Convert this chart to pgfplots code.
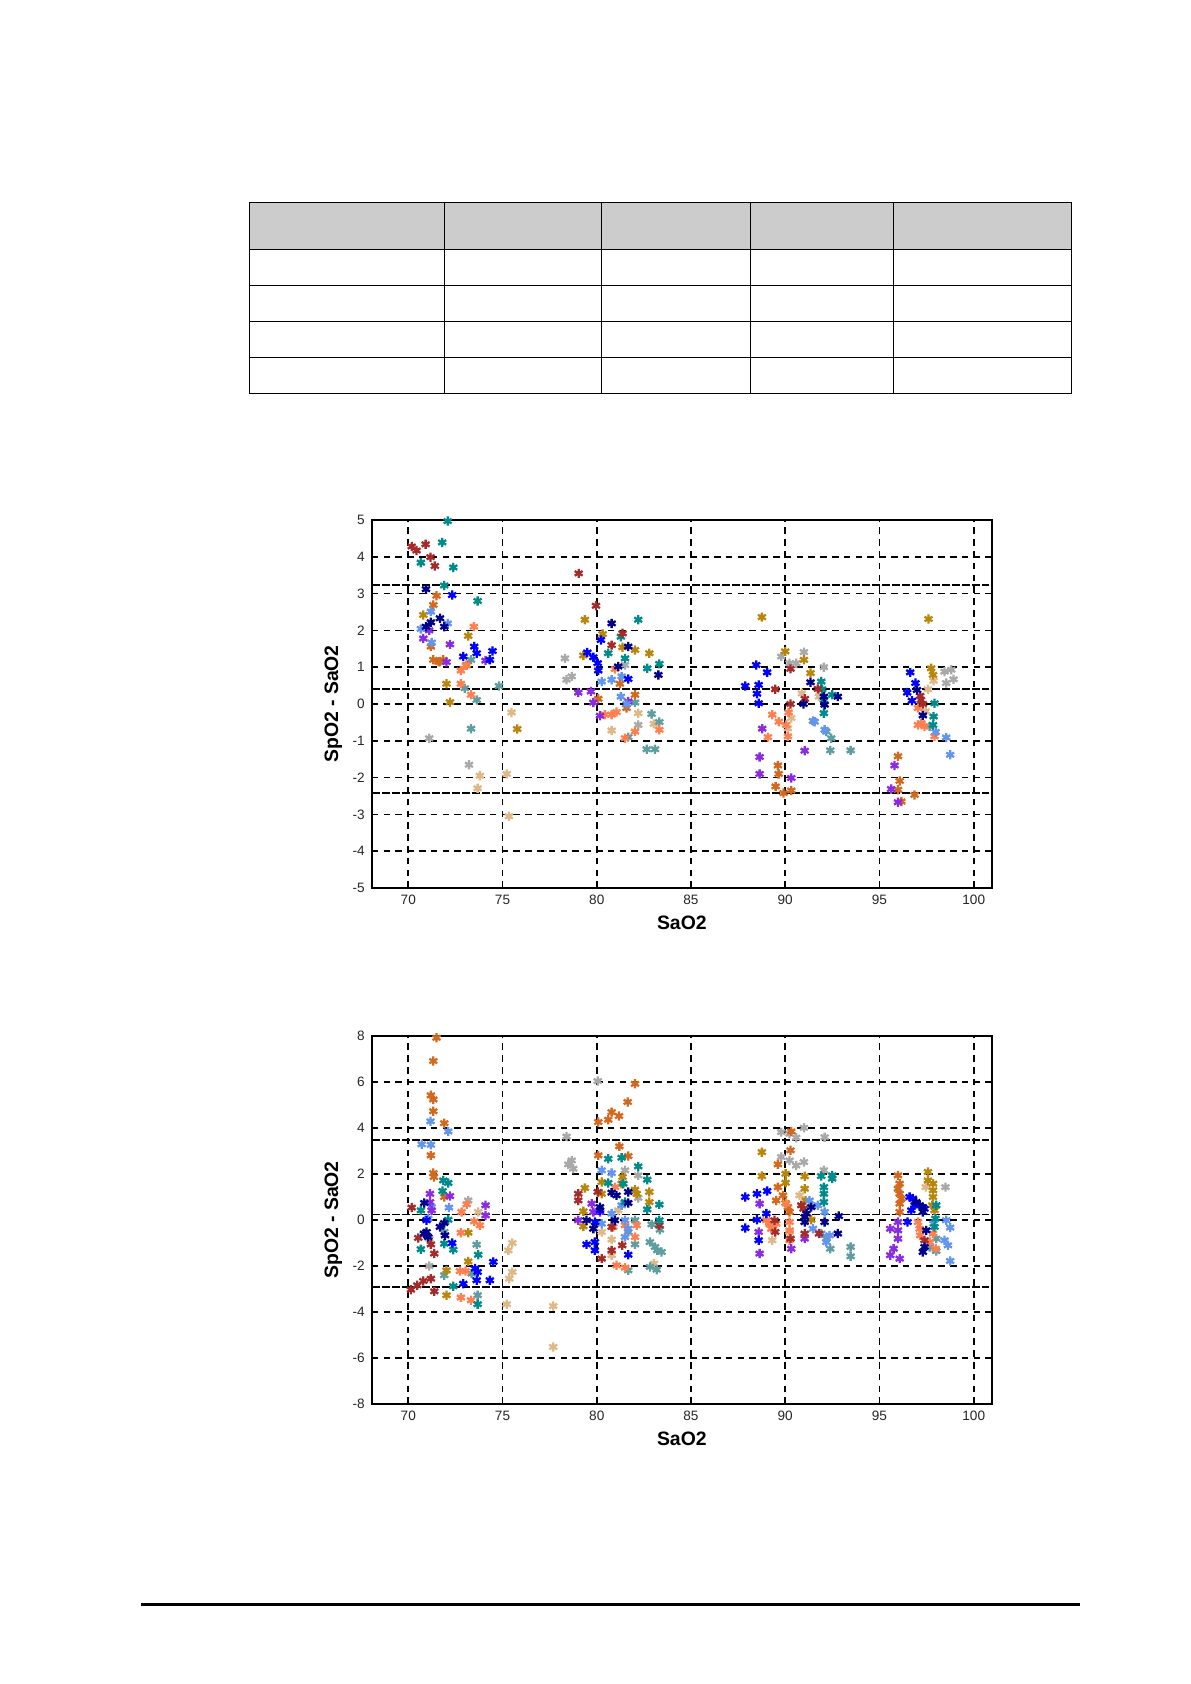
\documentclass[border=0pt]{standalone}
\usepackage{fontspec}
\setmainfont{Liberation Sans}
\usepackage{pgfplots}
\pgfplotsset{compat=1.18}

\definecolor{cblue}{HTML}{0000FF}
\definecolor{cviolet}{HTML}{8A2BE2}
\definecolor{cbrown}{HTML}{A52A2A}
\definecolor{cburly}{HTML}{DEB887}
\definecolor{ccadet}{HTML}{5F9EA0}
\definecolor{cchoc}{HTML}{D2691E}
\definecolor{ccoral}{HTML}{FF7F50}
\definecolor{ccorn}{HTML}{6495ED}
\definecolor{cdblue}{HTML}{00008B}
\definecolor{cdcyan}{HTML}{008B8B}
\definecolor{cgold}{HTML}{B8860B}
\definecolor{cgray}{HTML}{A9A9A9}

\pgfplotsset{
  sao/.style={
    scale only axis, width=310.15pt, height=184pt,
    anchor=south west,
    xmin=68.06, xmax=100.97,
    xtick={70,75,...,100},
    grid=major,
    grid style={black, line width=0.8pt, dash pattern=on 3.3pt off 2.6pt},
    major tick length=0pt,
    axis line style={line width=0.9pt},
    /pgf/number format/assume math mode=true,
    tick label style={font=\fontsize{6.8}{8}\selectfont, text=black!85},
    xlabel={\textbf{SaO2}}, ylabel={\textbf{SpO2 - SaO2}},
    label style={font=\fontsize{9.7}{11}\selectfont},
    xlabel style={at={(axis description cs:0.5,-0.094)}, anchor=center},
    ylabel style={at={(axis description cs:-0.062,0.5)}, anchor=center},
    clip=true,
  },
  limit/.style={black, line width=0.8pt, dash pattern=on 4pt off 1pt},
  pt/.style={only marks, mark=asterisk, mark size=2.3pt, color=#1, mark options={solid, draw=#1, line width=1.15pt}},
}

\begin{document}
\begin{tikzpicture}[x=0.5pt, y=-0.5pt]
\path[use as bounding box] (0,0) rectangle (1190,1684);

% table, empty
\fill[black!20] (249.3,202.3) rectangle (1071.3,249.3);
\draw[black, line width=0.6pt] (249.3,202.3) rectangle (1071.3,393.3);
\foreach \yy in {249.3,285.3,321.3,357.3} \draw[black, line width=0.6pt] (249.3,\yy) -- (1071.3,\yy);
\foreach \xx in {444.3,601.3,750.3,893.3} \draw[black, line width=0.6pt] (\xx,202.3) -- (\xx,393.3);

% footer rule
\draw[black, line width=1.5pt] (141,1604.3) -- (1080,1604.3);

\begin{axis}[sao, at={(185.85pt,-444pt)}, ymin=-5, ymax=5, ytick={-5,-4,...,5}]
\addplot[limit] coordinates {(68.06,3.23) (100.8,3.23)};
\addplot[limit] coordinates {(68.06,0.40) (100.8,0.40)};
\addplot[limit] coordinates {(68.06,-2.42) (100.8,-2.42)};
\addplot[pt=cburly] coordinates {(75.48,-0.23)(73.8,-1.95)(73.68,-2.29)(75.22,-1.9)(75.34,-3.05)(80.79,-0.72)(82.2,-0.25)(83.03,-0.54)(90.88,0.29)(91.79,0.2)(90.32,-0.38)(90.14,-0.66)(97.57,0.4)(97.87,0.63)(97.45,-0.2)};
\addplot[pt=ccadet] coordinates {(74.81,0.49)(73.63,0.11)(73.0,0.43)(73.33,-0.67)(73.33,1.2)(82.03,0.04)(82.91,-0.27)(83.32,-0.49)(82.65,-1.23)(83.09,-1.23)(81.67,-0.90)(92.18,-0.75)(92.44,-0.93)(92.39,-1.26)(93.47,-1.26)(97.66,-0.61)};
\addplot[pt=cgray] coordinates {(71.11,-0.93)(73.22,-1.65)(78.31,1.24)(78.4,0.66)(78.67,0.75)(81.5,1.06)(82.2,-0.57)(89.79,1.29)(90.23,1.11)(90.58,1.11)(90.99,1.41)(92.05,1.0)(98.45,0.88)(98.54,0.57)(98.93,0.67)(98.81,0.93)};
\addplot[pt=cgold] coordinates {(70.8,2.42)(73.18,1.85)(72.03,0.55)(72.21,0.05)(75.78,-0.68)(79.37,2.29)(79.29,1.32)(80.31,1.90)(81.37,1.54)(82.03,1.47)(82.79,1.38)(71.68,1.15)(88.76,2.36)(90,1.43)(90.99,1.2)(91.34,0.84)(97.6,2.31)(97.74,0.97)(97.84,0.79)};
\addplot[pt=cchoc] coordinates {(71.5,2.94)(71.33,2.69)(71.2,1.56)(71.33,1.2)(71.86,1.2)(71.6,1.15)(73.1,1.06)(80.08,0.14)(81.23,0.55)(82.03,0.25)(81.58,-0.11)(89.61,-1.67)(89.65,-1.9)(89.49,-2.24)(89.91,-2.42)(90.32,-2.35)(95.98,-1.42)(96.07,-2.09)(95.98,-2.33)(96.16,-2.65)(96.86,-2.47)};
\addplot[pt=ccoral] coordinates {(73.48,2.10)(72.79,0.91)(73.06,1.05)(72.79,0.55)(73.33,0.25)(80.97,0.95)(80.43,-0.29)(80.79,-0.29)(81.05,-0.22)(81.5,-0.93)(82.03,-0.75)(83.32,-0.70)(89.31,-0.29)(89.66,-0.48)(90.05,-0.57)(90.18,-0.23)(89.08,-0.90)(90.14,-0.88)(97.04,-0.11)(97.22,-0.52)(97.39,-0.61)(97.04,-0.57)(97.92,-0.88)};
\addplot[pt=cviolet] coordinates {(70.8,1.78)(71.11,2.0)(72.21,1.62)(72.03,1.14)(74.1,1.18)(79.02,0.31)(79.69,0.34)(79.82,0.04)(80.17,-0.32)(81.67,0.07)(88.78,-0.67)(88.64,-1.44)(88.64,-1.9)(90.32,-2.01)(91.03,-1.27)(95.8,-1.67)(95.62,-2.31)(95.98,-2.67)};
\addplot[pt=ccorn] coordinates {(71.2,2.51)(70.67,2.04)(72.09,2.19)(71.24,1.67)(80.26,0.61)(80.79,0.66)(81.32,0.75)(81.28,0.2)(81.58,0.0)(91.56,-0.48)(92.09,-0.7)(91.47,-0.46)(97.98,-0.76)(98.54,-0.91)(98.75,-1.38)};
\addplot[pt=cblue] coordinates {(72.33,2.96)(72.92,1.29)(73.5,1.56)(73.63,1.38)(74.47,1.44)(74.33,1.2)(79.5,1.4)(79.82,1.27)(80.05,1.11)(80.08,0.91)(80.22,1.74)(81.67,0.68)(88.46,1.06)(89.04,0.86)(87.88,0.49)(88.59,0.52)(88.5,0.28)(88.59,0.02)(96.63,0.86)(96.91,0.57)(96.47,0.31)(96.72,0.09)};
\addplot[pt=cdcyan] coordinates {(72.09,4.97)(71.8,4.39)(70.67,3.84)(72.39,3.71)(71.91,3.22)(73.68,2.80)(80.61,1.38)(81.28,1.83)(81.5,1.24)(82.2,2.29)(82.68,0.97)(83.32,1.09)(91.91,0.61)(91.96,0.40)(92.05,0.11)(92.05,-0.25)(92.49,0.25)(97.92,0.02)(97.87,-0.34)(97.84,-0.57)};
\addplot[pt=cbrown] coordinates {(70.18,4.28)(70.44,4.17)(70.92,4.34)(71.18,3.99)(71.41,3.75)(79.04,3.55)(79.96,2.67)(80.79,1.60)(81.37,1.92)(89.47,0.40)(90.28,0.955)(90.28,0.0)(91.04,0.14)(91.73,0.41)(97.16,0.22)(97.30,0.0)(97.2,0.11)};
\addplot[pt=cdblue] coordinates {(70.94,3.12)(71.2,2.22)(70.94,2.1)(71.68,2.33)(71.91,2.1)(80.79,2.19)(81.67,1.56)(83.27,0.79)(81.14,1.02)(91.34,0.59)(90.97,0.0)(92.05,0.2)(92.79,0.2)(92.09,-0.02)(96.99,0.38)(97.3,-0.31)};
\end{axis}

\begin{axis}[sao, at={(185.85pt,-702pt)}, ymin=-8, ymax=8, ytick={-8,-6,...,8}]
\addplot[limit] coordinates {(68.06,3.47) (100.8,3.47)};
\addplot[limit] coordinates {(68.06,0.24) (100.8,0.24)};
\addplot[limit] coordinates {(68.06,-2.90) (100.8,-2.90)};
\addplot[pt=cburly] coordinates {(73.71,0.35)(75.52,-1.0)(75.31,-1.32)(75.52,-2.26)(75.36,-2.55)(75.22,-3.66)(77.69,-3.74)(77.69,-5.52)(83.03,-1.9)(80.79,-0.85)(80.26,-0.52)(80.79,-1.53)(81.14,0.42)(89.31,-0.88)(90.23,-0.52)(90.76,1.07)(97.45,1.43)};
\addplot[pt=cgray] coordinates {(78.4,3.63)(78.67,2.59)(78.49,2.42)(78.75,2.23)(80.05,6.04)(81.5,2.16)(82.2,1.94)(82.2,0.96)(73.18,0.85)(71.11,-2.0)(71.11,-0.81)(89.79,3.82)(90.23,3.75)(90.58,3.58)(90.99,4.01)(92.09,3.6)(89.79,2.74)(90.23,2.59)(90.58,2.37)(90.99,2.52)(92.05,2.16)(98.5,1.43)};
\addplot[pt=ccadet] coordinates {(71.91,-0.52)(71.91,-2.4)(73.63,-1.07)(73.68,-3.27)(73.36,-2.33)(82.03,-0.01)(81.67,-0.52)(82.03,-1.06)(82.91,-0.19)(83.35,-0.42)(82.82,-0.96)(83.09,-1.17)(83.44,-1.39)(83.21,-1.32)(82.82,-2.04)(83.18,-2.16)(81.67,-2.19)(92.18,-0.81)(92.39,-1.25)(93.47,-1.17)(93.47,-1.58)(98.01,-0.81)(98.01,-1.35)(97.66,-1.17)};
\addplot[pt=cchoc] coordinates {(71.5,7.92)(71.33,6.91)(71.2,5.42)(71.33,5.24)(71.33,4.73)(71.91,4.21)(71.2,2.81)(71.33,2.04)(71.36,1.87)(71.91,1.0)(80.08,4.26)(80.61,4.36)(80.79,4.69)(81.18,4.52)(81.64,5.13)(82.03,5.92)(81.2,3.2)(80.08,2.81)(81.67,2.78)(90.32,3.85)(90.28,3.03)(89.61,2.42)(89.61,1.43)(89.52,0.85)(89.88,1.07)(90.14,0.56)(90.23,0.35)(95.98,1.94)(96.07,1.58)(96.07,1.14)(96.07,0.71)(96.07,0.35)(95.98,1.36)(96.16,0.92)};
\addplot[pt=cgold] coordinates {(73.18,-0.55)(73.18,-1.8)(72.03,-2.19)(72.03,-3.27)(79.37,1.39)(79.29,0.38)(79.29,-0.28)(80.26,1.65)(80.26,1.14)(81.37,1.87)(81.32,1.58)(82.03,1.32)(82.12,1.14)(82.79,1.22)(82.79,0.78)(88.76,2.95)(88.76,1.91)(90.02,2.01)(90.02,1.62)(90.02,0.74)(91.03,1.9)(91.03,1.36)(91.08,0.85)(91.38,0.01)(97.57,2.09)(97.57,1.72)(97.84,1.29)(97.84,1.0)(97.8,0.64)(97.92,0.42)(97.84,1.58)};
\addplot[pt=ccoral] coordinates {(73.1,0.68)(72.83,0.35)(73.5,-0.06)(73.8,-0.23)(72.79,-0.55)(72.74,-2.22)(73.04,-2.22)(72.79,-3.37)(73.33,-3.49)(80.97,1.43)(80.88,-0.3)(81.5,-0.23)(82.12,-0.23)(82.03,-0.74)(81.05,-1.97)(81.5,-2.07)(88.99,-0.01)(89.17,-0.19)(89.52,-0.16)(89.26,-0.38)(90.05,0.71)(90.23,-0.09)(90.23,-0.88)(90.23,-0.45)(97.04,-0.09)(97.13,-0.38)(97.16,-0.67)(97.84,-0.59)(97.98,-1.25)(97.66,-0.96)};
\addplot[pt=ccorn] coordinates {(71.18,4.29)(72.12,3.85)(70.71,3.29)(71.2,3.27)(71.24,0.56)(72.16,0.54)(71.06,0.06)(80.26,2.16)(80.79,2.04)(80.79,0.28)(81.32,0.64)(81.5,-0.01)(81.5,-0.74)(81.67,-0.38)(80.26,-0.16)(91.29,0.85)(91.73,0.64)(92.09,0.35)(91.47,-0.38)(91.91,-0.59)(92.35,-0.67)(92.18,-0.96)(98.54,-0.01)(98.75,-0.33)(98.45,-0.88)(98.63,-1.1)(98.75,-1.78)(97.87,-0.16)};
\addplot[pt=cviolet] coordinates {(71.15,1.14)(71.15,0.78)(72.21,1.04)(71.24,0.42)(74.1,0.64)(74.1,0.2)(79.73,0.71)(79.82,0.35)(79.02,-0.01)(80.17,0.35)(88.64,0.71)(88.59,-0.52)(88.64,-1.46)(90.32,-1.25)(91.03,-0.81)(95.57,-0.38)(95.98,-0.09)(95.98,-0.81)(95.57,-1.53)(95.75,-1.25)(96.07,-1.68)(95.98,-0.45)};
\addplot[pt=cbrown] coordinates {(70.18,0.54)(70.53,-0.78)(71.2,-1.06)(71.38,-1.46)(70.14,-3.03)(70.48,-2.84)(70.8,-2.65)(71.2,-2.55)(71.38,-3.1)(79.02,1.14)(79.02,0.85)(80.05,1.22)(80.26,-1.68)(80.79,-1.32)(81.35,-1.1)(80.79,-0.3)(83.32,-0.23)(89.43,-0.01)(89.47,-0.52)(90.28,-0.81)(90.85,0.64)(90.97,0.49)(91.03,-0.59)(91.79,-0.59)(97.39,-0.88)};
\addplot[pt=cdcyan] coordinates {(71.86,1.72)(72.12,1.61)(71.82,1.26)(70.67,0.42)(72.12,0.01)(72.39,-1.29)(70.67,-1.27)(71.91,-1.03)(73.71,-1.51)(73.68,-3.66)(72.39,-2.88)(80.61,2.66)(81.32,2.71)(82.2,2.33)(82.68,1.75)(80.61,1.61)(81.5,0.78)(82.68,0.46)(83.32,0.67)(83.32,-0.01)(81.41,1.58)(91.91,1.91)(92.49,1.94)(92.49,1.8)(92.05,1.43)(92.05,1.14)(92.05,0.78)(98.01,0.64)(97.97,0.06)(97.92,-0.3)};
\addplot[pt=cblue] coordinates {(72.33,-1.0)(70.97,-0.01)(73.54,-2.11)(72.92,-2.77)(73.63,-2.62)(74.51,-1.82)(74.33,-2.62)(73.68,-2.26)(79.46,-1.06)(79.9,-0.96)(79.9,-1.32)(81.67,-1.51)(80.17,0.42)(79.91,-0.09)(87.88,1.0)(88.5,1.14)(89.04,1.26)(88.5,0.01)(87.88,-0.35)(88.59,-0.88)(89.0,0.28)(96.6,1.0)(96.86,0.64)(97.13,0.64)(96.69,0.42)(96.49,-0.09)(96.77,0.93)(97.39,0.49)};
\addplot[pt=cdblue] coordinates {(70.85,0.74)(71.91,-0.13)(71.68,-0.3)(70.97,-0.52)(71.06,-0.74)(70.83,-0.59)(71.95,-0.67)(80.79,1.19)(81.05,1.07)(81.67,1.22)(81.67,0.74)(79.82,-0.38)(79.46,-0.01)(80.96,-0.01)(80.17,0.56)(91.03,0.13)(91.03,-0.09)(91.38,0.56)(92.09,-0.09)(92.79,-0.59)(92.84,0.17)(96.95,0.78)(97.3,0.56)(97.39,-1.17)(97.3,-1.39)(97.48,-0.45)(97.3,0.35)(91.13,0.28)};
\end{axis}
\end{tikzpicture}
\end{document}
